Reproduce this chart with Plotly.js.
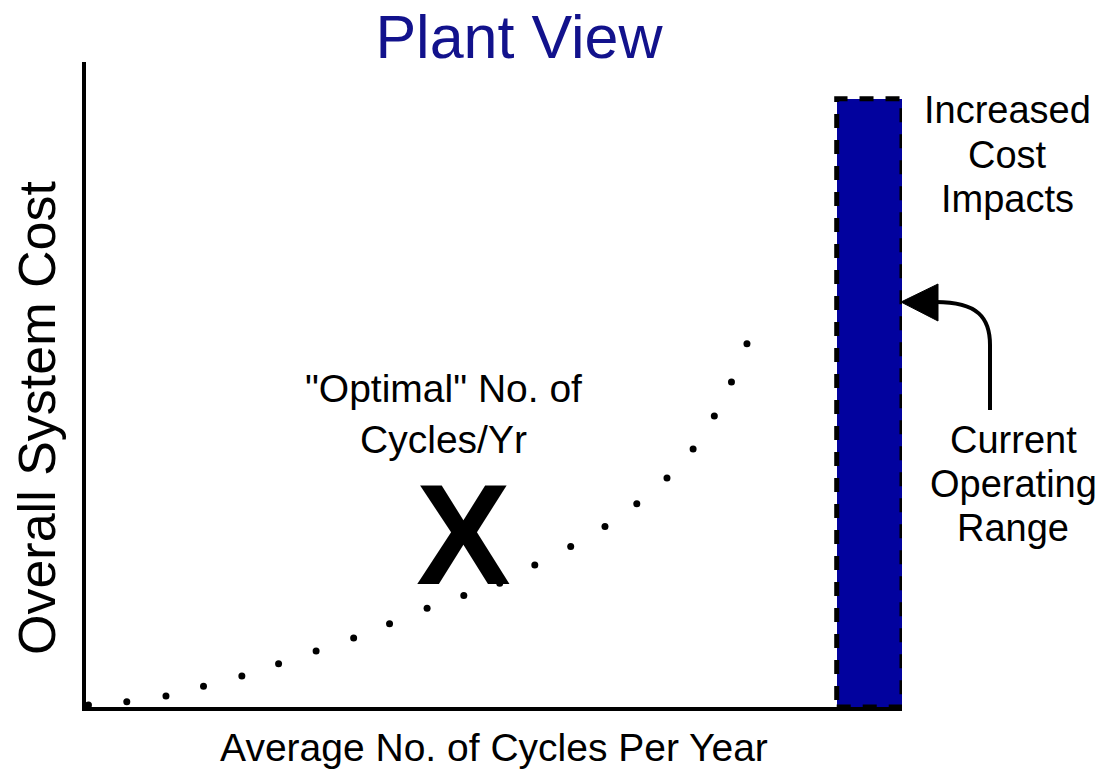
<!DOCTYPE html>
<html>
<head>
<meta charset="utf-8">
<script src="https://cdn.plot.ly/plotly-3.0.1.min.js"></script>
<style>html,body{margin:0;padding:0;background:#fff;}#chart{width:1098px;height:772px;}</style>
</head>
<body>
<div id="chart"></div>
<script>
// Dotted cost curve (x: average cycles per year, y: overall system cost), arbitrary units 0-100
const curveX = [0.3, 5.0, 9.8, 14.4, 19.1, 23.6, 28.2, 32.8, 37.2, 41.8, 46.3, 50.7, 55.0, 59.4, 63.6, 67.5, 71.2, 74.4, 77.0, 79.1, 81.0];
const curveY = [0.3, 0.8, 1.7, 3.2, 4.8, 6.7, 8.7, 10.7, 12.9, 15.3, 17.3, 19.2, 22.0, 24.9, 28.0, 31.5, 35.5, 40.0, 45.1, 50.4, 56.3];

// Current operating range bar
const rangeStart = 92.0;
const rangeEnd = 100;
const rangeTop = 94.3;

// Optimal point marker
const optimalX = 46.3;
const optimalY = 26.7;

const titleText = "Plant View";
const xTitle = "Average No. of Cycles Per Year";
const yTitle = "Overall System Cost";
const optimalLabel = "\"Optimal\" No. of<br>Cycles/Yr";
const costLines = ["Increased", "Cost", "Impacts"];
const rangeLines = ["Current", "Operating", "Range"];

const FONT = "Liberation Sans, Arial, sans-serif";

const traces = [
  {
    type: "bar",
    x: [(rangeStart + rangeEnd) / 2],
    y: [rangeTop],
    width: [rangeEnd - rangeStart],
    marker: {color: "#02029e", line: {width: 0}},
    hoverinfo: "skip",
    showlegend: false
  },
  {
    type: "scatter",
    mode: "markers",
    x: curveX,
    y: curveY,
    marker: {color: "#000", size: 7, symbol: "circle"},
    hoverinfo: "skip",
    showlegend: false
  }
];

// plot-area pixel edges, used only for placing decorative annotations / arrow
const L = 86, R = 902, T = 62, B = 707;
const px = v => (v - L) / (R - L);
const py = v => (B - v) / (B - T);

const arrowPath = `M ${px(990)} ${py(410)} L ${px(990)} ${py(345)} C ${px(990)} ${py(318)}, ${px(978)} ${py(302)}, ${px(936)} ${py(302)}`;
const headPath = `M ${px(901)} ${py(302)} L ${px(938)} ${py(284)} L ${px(938)} ${py(321)} Z`;

const annotations = [
  {
    text: yTitle, textangle: -90, showarrow: false,
    xref: "paper", yref: "paper", x: px(37), y: py(418),
    xanchor: "center", yanchor: "middle",
    font: {family: FONT, size: 52, color: "#000"}
  },
  {
    text: optimalLabel, showarrow: false,
    xref: "x", yref: "y", x: 43.8, y: 45.4,
    xanchor: "center", yanchor: "middle", align: "center",
    font: {family: FONT, size: 39, color: "#000"}
  },
  {
    text: "X", showarrow: false,
    xref: "x", yref: "y", x: optimalX, y: optimalY,
    xanchor: "center", yanchor: "middle",
    font: {family: FONT, size: 142, color: "#000", weight: "bold"}
  }
];
const costY = [110, 155, 199];
costLines.forEach((t, i) => annotations.push({
  text: t, showarrow: false, xref: "paper", yref: "paper",
  x: px(1007), y: py(costY[i]), xanchor: "center", yanchor: "middle",
  font: {family: FONT, size: 38, color: "#000"}
}));
const rangeY = [440, 484, 528];
rangeLines.forEach((t, i) => annotations.push({
  text: t, showarrow: false, xref: "paper", yref: "paper",
  x: px(1013), y: py(rangeY[i]), xanchor: "center", yanchor: "middle",
  font: {family: FONT, size: 38, color: "#000"}
}));

const layout = {
  width: 1098,
  height: 772,
  margin: {l: L, r: 1098 - R, t: T, b: 772 - B},
  paper_bgcolor: "#fff",
  plot_bgcolor: "#fff",
  showlegend: false,
  title: {
    text: titleText,
    font: {family: FONT, size: 61, color: "#12128c"},
    xref: "container", x: 519 / 1098, xanchor: "center",
    yref: "container", y: 1 - 37 / 772, yanchor: "middle"
  },
  xaxis: {
    range: [0, 100],
    showgrid: false, zeroline: false, showticklabels: false, ticks: "",
    showline: true, linecolor: "#000", linewidth: 4,
    title: {text: xTitle, font: {family: FONT, size: 39, color: "#000"}, standoff: 25}
  },
  yaxis: {
    range: [0, 100],
    showgrid: false, zeroline: false, showticklabels: false, ticks: "",
    showline: true, linecolor: "#000", linewidth: 4
  },
  bargap: 0,
  shapes: [
    {
      type: "rect", xref: "x", yref: "y",
      x0: rangeStart, x1: rangeEnd, y0: 0, y1: rangeTop,
      line: {color: "#000", width: 5, dash: "14px,12px"},
      fillcolor: "rgba(0,0,0,0)", layer: "above"
    },
    {
      type: "path", xref: "paper", yref: "paper", path: arrowPath,
      line: {color: "#000", width: 4}, fillcolor: "rgba(0,0,0,0)"
    },
    {
      type: "path", xref: "paper", yref: "paper", path: headPath,
      line: {color: "#000", width: 1}, fillcolor: "#000"
    }
  ],
  annotations: annotations
};

Plotly.newPlot("chart", traces, layout, {displayModeBar: false, staticPlot: true});
</script>
</body>
</html>
